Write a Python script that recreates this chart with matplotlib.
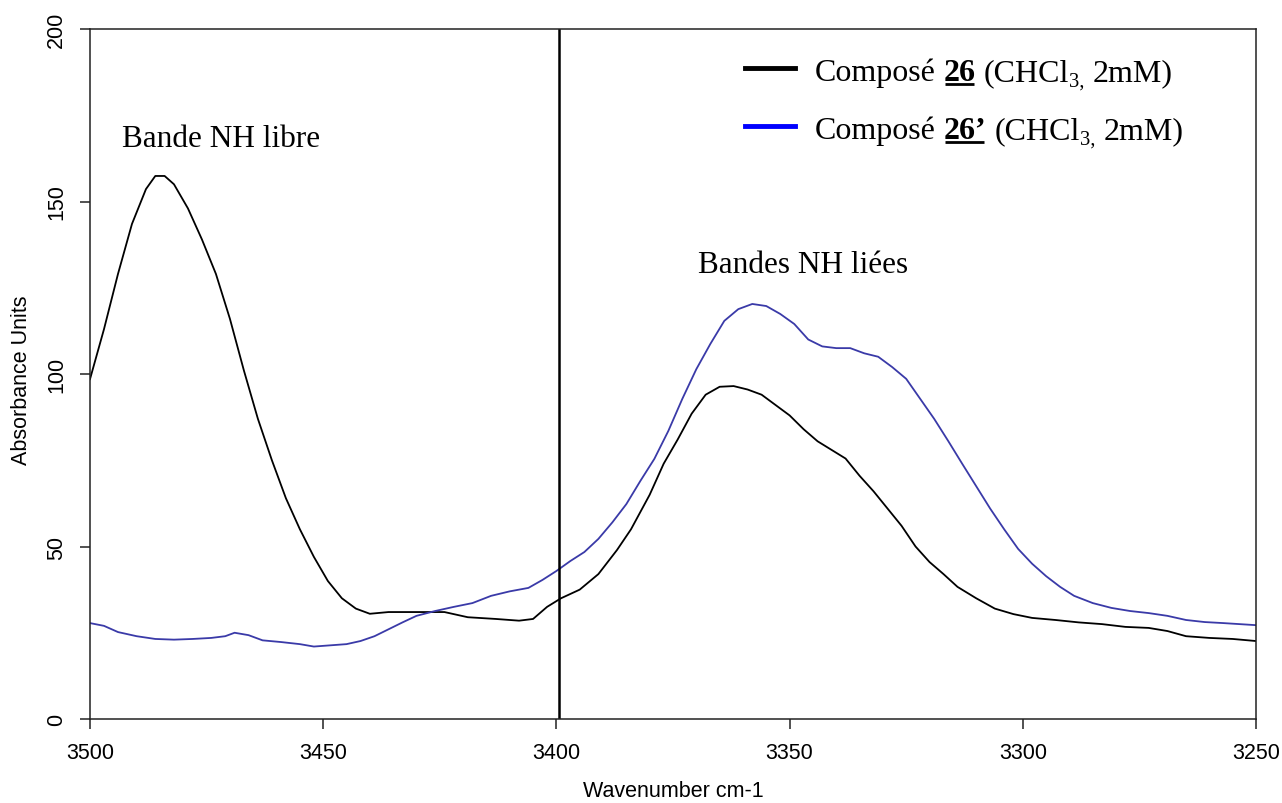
import matplotlib
matplotlib.use("Agg")
import matplotlib.pyplot as plt
from matplotlib.lines import Line2D
from matplotlib.transforms import IdentityTransform

# spectrum of compound 26 (black)
wn_26 = [3500, 3497, 3494, 3491, 3488, 3486, 3484, 3482, 3479, 3476, 3473, 3470,
         3467, 3464, 3461, 3458, 3455, 3452, 3449, 3446, 3443, 3440, 3436, 3430,
         3424, 3419, 3413, 3408, 3405, 3402, 3399, 3395, 3391, 3387, 3384, 3380,
         3377, 3374, 3371, 3368, 3365, 3362, 3359, 3356, 3353, 3350, 3347, 3344,
         3341, 3338, 3335, 3332, 3329, 3326, 3323, 3320, 3317, 3314, 3310, 3306,
         3302, 3298, 3293, 3288, 3283, 3278, 3273, 3269, 3265, 3260, 3255, 3250]
abs_26 = [98.5, 113, 129, 143.5, 153.6, 157.4, 157.4, 155, 148, 139, 129, 116,
          101, 87, 75, 64, 55, 47, 40, 35, 32, 30.5, 31, 31,
          31, 29.5, 29, 28.5, 29, 32.5, 35, 37.5, 42, 49, 55, 65,
          74, 81, 88.5, 94, 96.3, 96.5, 95.5, 94, 91, 88, 84, 80.5,
          78, 75.5, 70.5, 66, 61, 56, 50, 45.5, 42, 38.3, 35, 32,
          30.4, 29.3, 28.7, 28, 27.5, 26.7, 26.4, 25.5, 24, 23.5, 23.2, 22.6]

# spectrum of compound 26' (blue)
wn_26p = [3500, 3497, 3494, 3490, 3486, 3482, 3478, 3474, 3471, 3469, 3466, 3463,
          3459, 3455, 3452, 3449, 3445, 3442, 3439, 3436, 3433, 3430, 3426, 3422,
          3418, 3414, 3410, 3406, 3403, 3400, 3397, 3394, 3391, 3388, 3385, 3382,
          3379, 3376, 3373, 3370, 3367, 3364, 3361, 3358, 3355, 3352, 3349, 3346,
          3343, 3340, 3337, 3334, 3331, 3328, 3325, 3322, 3319, 3316, 3313, 3310,
          3307, 3304, 3301, 3298, 3295, 3292, 3289, 3285, 3281, 3277, 3273, 3269,
          3265, 3261, 3257, 3250]
abs_26p = [27.8, 27, 25.2, 24, 23.2, 23, 23.2, 23.5, 24, 25, 24.3, 22.8,
           22.3, 21.7, 21, 21.3, 21.7, 22.6, 24, 26, 28, 29.9, 31.3, 32.5,
           33.6, 35.7, 37, 38, 40.3, 42.9, 45.8, 48.4, 52.2, 57, 62.3, 69,
           75.4, 83.5, 92.8, 101.4, 108.7, 115.4, 118.8, 120.3, 119.7, 117.4, 114.5, 110,
           108, 107.5, 107.5, 106, 105, 102, 98.6, 92.8, 87, 80.6, 74, 67.5,
           61, 55, 49.3, 45, 41.4, 38.3, 35.7, 33.6, 32.2, 31.3, 30.7, 29.9,
           28.7, 28.1, 27.8, 27.2]

x_ticks = [3500, 3450, 3400, 3350, 3300, 3250]
y_ticks = [0, 50, 100, 150, 200]

plt.rcParams['font.family'] = ['Liberation Sans', 'DejaVu Sans']
serif = ['Liberation Serif', 'DejaVu Serif']

W, H = 1282, 804
fig = plt.figure(figsize=(W / 100, H / 100), dpi=100)
ax = fig.add_axes([90 / W, 84 / H, 1166 / W, 690 / H])

ax.plot(wn_26, abs_26, color='black', lw=1.3)
ax.plot(wn_26p, abs_26p, color='#3a3aa8', lw=1.3)
ax.axvline(3399.4, color='black', lw=1.8)

ax.set_xlim(3500, 3250)
ax.set_ylim(0, 200)
ax.set_xticks(x_ticks)
ax.set_yticks(y_ticks)
ax.tick_params(axis='both', direction='out', length=7.5, width=1.1,
               labelsize=15.5, colors='#222222', labelcolor='black')
ax.tick_params(axis='x', pad=9)
ax.tick_params(axis='y', pad=9)
for lab in ax.get_yticklabels():
    lab.set_rotation(90)
    lab.set_va('center')
for sp in ax.spines.values():
    sp.set_linewidth(1.1)
    sp.set_color('#222222')

ax.set_xlabel('Wavenumber cm-1', fontsize=15.5)
ax.xaxis.set_label_coords(0.5, -0.088)
ax.set_ylabel('Absorbance Units', fontsize=15.5)
ax.yaxis.set_label_coords(-0.05, 0.493)

ax.text(0.0274, 0.830, 'Bande NH libre', transform=ax.transAxes,
        family=serif, fontsize=22.5, va='baseline')
ax.text(0.5214, 0.648, 'Bandes NH liées', transform=ax.transAxes,
        family=serif, fontsize=22.5, va='baseline')

# legend drawn by hand: bold underlined compound number and subscripts
renderer = fig.canvas.get_renderer()
px = IdentityTransform()
fs = 23
space = 0.25 * fs * 100 / 72


def legend_row(y_line, y_base, colour, label):
    fig.add_artist(Line2D([745, 795], [H - y_line, H - y_line], color=colour,
                          lw=3.5, transform=px))
    parts = [('Composé', 'normal', fs, 0, space, False),
             (label, 'bold', fs, 0, space, True),
             ('(CHCl', 'normal', fs, 0, 0, False),
             ('3,', 'normal', fs * 0.65, 6, space, False),
             ('2mM)', 'normal', fs, 0, 0, False)]
    x = 815
    for s, weight, size, dy, gap, under in parts:
        t = fig.text(x, H - y_base - dy, s, transform=px, family=serif,
                     fontsize=size, fontweight=weight, va='baseline', ha='left')
        bb = t.get_window_extent(renderer)
        if under:
            yu = H - y_base - 4
            fig.add_artist(Line2D([bb.x0 + 1, bb.x1 - 2], [yu, yu], color='black',
                                  lw=2.0, solid_capstyle='butt', transform=px))
        x = bb.x1 + gap


legend_row(69, 81, 'black', '26')
legend_row(127, 139, '#0000ff', '26’')

fig.savefig('out.png', dpi=100)
